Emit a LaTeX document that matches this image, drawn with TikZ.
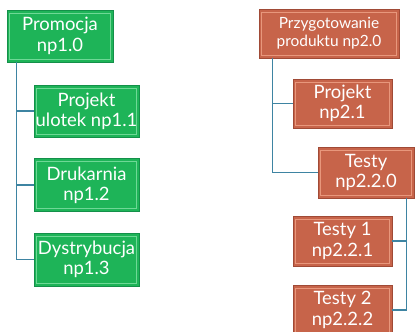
\documentclass[tikz,border=0pt]{standalone}
\usepackage{fontspec}
\setmainfont{Lato}
\definecolor{gfill}{HTML}{1EB458}
\definecolor{gedge}{HTML}{6ED896}
\definecolor{gdark}{HTML}{14904A}
\definecolor{rfill}{HTML}{C7644A}
\definecolor{redge}{HTML}{E8977C}
\definecolor{rdark}{HTML}{A04A36}
\definecolor{conn}{HTML}{3E84A2}
\tikzset{
  box/.style={rectangle, inner sep=0pt, text=white, align=center,
    font=\fontsize{18.5}{20.5}\selectfont,
    path picture={\draw[line width=1bp,#1]
      ([shift={(3bp,-3bp)}]path picture bounding box.north west) rectangle
      ([shift={(-3bp,3bp)}]path picture bounding box.south east);}},
  gbox/.style={box=gedge, fill=gfill, draw=gdark, line width=0.6bp},
  rbox/.style={box=redge, fill=rfill, draw=rdark, line width=0.6bp},
  link/.style={draw=conn, line width=1.6bp}
}
\begin{document}
\begin{tikzpicture}[x=1bp,y=-1bp]
\useasboundingbox[fill=white] (0,0) rectangle (416,332);
% green tree
\node[gbox, minimum width=106bp, minimum height=52bp] (P1) at (60,36) {Promocja\\np1.0};
\node[gbox, minimum width=105bp, minimum height=52bp] (P11) at (86.5,111) {Projekt\\ulotek np1.1};
\node[gbox, minimum width=105bp, minimum height=53bp] (P12) at (86.5,185) {Drukarnia\\np1.2};
\node[gbox, minimum width=105bp, minimum height=53bp] (P13) at (86.5,259.5) {Dystrybucja\\np1.3};
\draw[link] ([xshift=10bp]P1.south west) |- (P11.west);
\draw[link] ([xshift=10bp]P1.south west) |- (P12.west);
\draw[link] ([xshift=10bp]P1.south west) |- (P13.west);
% red tree
\node[rbox, minimum width=140bp, minimum height=49bp, font=\fontsize{15.5}{18}\selectfont] (R0) at (329,33.5) {Przygotowanie\\produktu np2.0};
\node[rbox, minimum width=99bp, minimum height=49bp] (R1) at (342.5,103.5) {Projekt\\np2.1};
\node[rbox, minimum width=96bp, minimum height=51bp] (R2) at (366,172.5) {Testy\\np2.2.0};
\node[rbox, minimum width=99bp, minimum height=50bp] (R21) at (342.5,241) {Testy 1\\np2.2.1};
\node[rbox, minimum width=99bp, minimum height=50bp] (R22) at (342.5,310) {Testy 2\\np2.2.2};
\draw[link] ([xshift=14bp]R0.south west) |- (R1.west);
\draw[link] ([xshift=14bp]R0.south west) |- (R2.west);
\draw[link] ([xshift=-8bp]R2.south east) |- (R21.east);
\draw[link] ([xshift=-8bp]R2.south east) |- (R22.east);
\end{tikzpicture}
\end{document}
